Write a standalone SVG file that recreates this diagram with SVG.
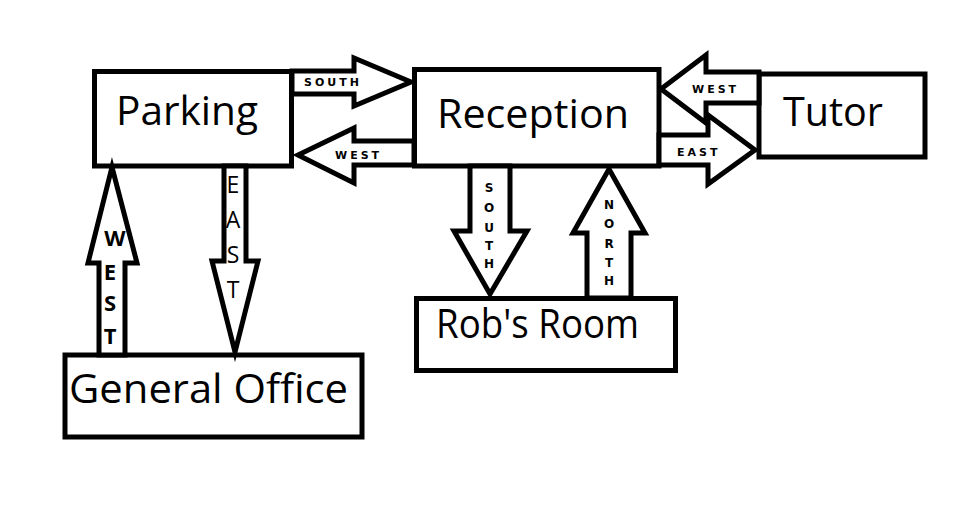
<svg xmlns="http://www.w3.org/2000/svg" width="980" height="520" viewBox="0 0 980 520">
<style>
.box{fill:#fff;stroke:#000;stroke-width:5}
.arr{fill:#fff;stroke:#000;stroke-width:5;stroke-linejoin:miter;stroke-miterlimit:10}
.big{font-family:"Open Sans","Noto Sans",sans-serif;font-size:40px;fill:#000}
.sm{font-family:"DejaVu Sans",Verdana,sans-serif;font-weight:bold;font-size:11px;letter-spacing:3px;fill:#000}
.vs{font-family:"DejaVu Sans",Verdana,sans-serif;font-weight:bold;font-size:12px;fill:#000;text-anchor:middle}
.ve{font-family:"Open Sans","Noto Sans",sans-serif;font-size:23px;fill:#000;text-anchor:middle}
.vw{font-family:"Open Sans","Noto Sans",sans-serif;font-weight:bold;font-size:22px;fill:#000;text-anchor:middle}
</style>
<rect width="980" height="520" fill="#fff"/>
<g id="parking"><rect class="box" x="94.5" y="71.5" width="197" height="94.5"/><text class="big" x="116" y="125" textLength="142" lengthAdjust="spacingAndGlyphs">Parking</text></g>
<g id="reception"><rect class="box" x="414.5" y="69.5" width="244.5" height="96.5"/><text class="big" x="437" y="128" textLength="192" lengthAdjust="spacingAndGlyphs">Reception</text></g>
<g id="tutor"><rect class="box" x="759" y="74" width="166" height="83"/><text class="big" x="783" y="126" textLength="100" lengthAdjust="spacingAndGlyphs">Tutor</text></g>
<g id="robs-room"><rect class="box" x="416.5" y="298.5" width="259" height="72"/><text class="big" x="436" y="338" textLength="203" lengthAdjust="spacingAndGlyphs">Rob's Room</text></g>
<g id="general-office"><rect class="box" x="65" y="355" width="297" height="82"/><text class="big" x="69" y="403" textLength="279" lengthAdjust="spacingAndGlyphs">General Office</text></g>
<g id="connectors">
<polygon class="arr" points="292,71 354,71 354,58 411,82 354,106 354,94 292,94"/>
<text class="sm" x="304" y="86">SOUTH</text>
<polygon class="arr" points="414,141 354,141 354,128 298,155 354,183 354,165 414,165"/>
<text class="sm" x="335" y="159">WEST</text>
<polygon class="arr" points="759,72 706,72 706,55 661,89 706,123 706,103 759,103"/>
<text class="sm" x="692" y="93">WEST</text>
<polygon class="arr" points="659,135 708,135 708,115 755,150 708,184 708,165 659,165"/>
<text class="sm" x="677" y="156">EAST</text>
<polygon class="arr" points="224,166 224,261 212,261 235,352 258,261 246,261 246,166"/>
<text class="ve"><tspan x="233" y="193">E</tspan><tspan x="233" y="228">A</tspan><tspan x="233" y="263">S</tspan><tspan x="233" y="298">T</tspan></text>
<polygon class="arr" points="99,355 99,263 88,263 112,167 137,263 125,263 125,355"/>
<text class="vw"><tspan x="115" y="246">W</tspan><tspan x="110" y="280">E</tspan><tspan x="110" y="311">S</tspan><tspan x="110" y="344">T</tspan></text>
<polygon class="arr" points="470,166 470,231 454,231 490,294 527,231 510,231 510,166"/>
<text class="vs"><tspan x="489" y="192">S</tspan><tspan x="489" y="212">O</tspan><tspan x="489" y="232">U</tspan><tspan x="489" y="250">T</tspan><tspan x="489" y="268">H</tspan></text>
<polygon class="arr" points="587,298 587,233 573,233 609,169 645,233 631,233 631,298"/>
<text class="vs"><tspan x="609" y="209">N</tspan><tspan x="609" y="228">O</tspan><tspan x="609" y="248">R</tspan><tspan x="609" y="267">T</tspan><tspan x="609" y="285">H</tspan></text>
</g>
</svg>
